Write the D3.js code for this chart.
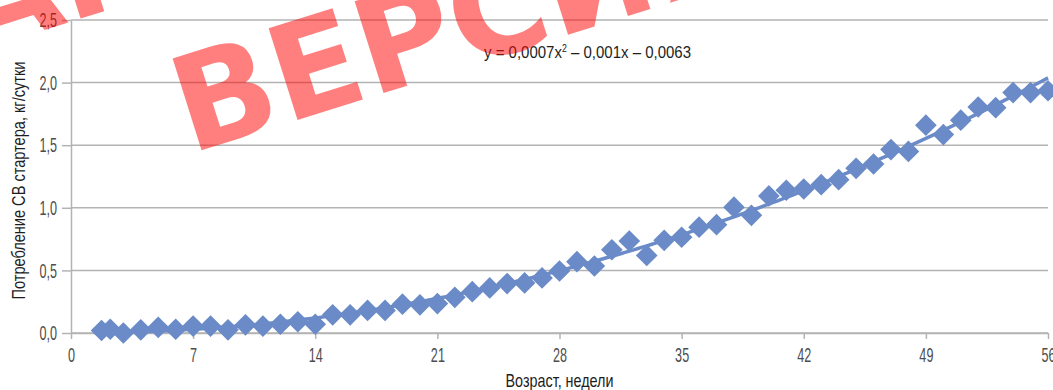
<!DOCTYPE html>
<html>
<head>
<meta charset="utf-8">
<script src="https://cdn.jsdelivr.net/npm/d3@7"></script>
<style>
  html, body { margin: 0; padding: 0; background: #fff; }
  svg { display: block; }
  .lbl { font-family: "Liberation Sans", Arial, sans-serif; }
</style>
</head>
<body>
<div id="chart"></div>
<script>
// weeks of age (x) and starter DM intake, kg/day (y)
const weeks = [1.75, 2.25, 3, 4, 5, 6, 7, 8, 9, 10, 11, 12, 13, 14, 15, 16, 17, 18, 19, 20,
  21, 22, 23, 24, 25, 26, 27, 28, 29, 30, 31, 32, 33, 34, 35, 36, 37, 38, 39, 40,
  41, 42, 43, 44, 45, 46, 47, 48, 49, 50, 51, 52, 53, 54, 55, 56];
const intake = [0.02, 0.03, 0.00, 0.025, 0.045, 0.03, 0.055, 0.055, 0.025, 0.065, 0.055, 0.07, 0.09, 0.07, 0.145, 0.145, 0.18, 0.18, 0.23, 0.225,
  0.235, 0.285, 0.33, 0.36, 0.395, 0.40, 0.44, 0.495, 0.57, 0.535, 0.665, 0.735, 0.62, 0.74, 0.765, 0.845, 0.865, 1.005, 0.94, 1.095,
  1.14, 1.15, 1.185, 1.225, 1.315, 1.35, 1.465, 1.45, 1.66, 1.585, 1.70, 1.805, 1.80, 1.92, 1.92, 1.935];

const xTicks = [0, 7, 14, 21, 28, 35, 42, 49, 56];
const yTicks = [0, 0.5, 1, 1.5, 2, 2.5];
const yTickLabels = ['0,0', '0,5', '1,0', '1,5', '2,0', '2,5'];

const xTitle = 'Возраст, недели';
const yTitle = 'Потребление СВ стартера, кг/сутки';
const equation = ['y = 0,0007x', '2', ' – 0,001x – 0,0063'];
const watermark = ['ОЗНАКОМИТЕЛЬНАЯ', 'ВЕРСИЯ'];

const W = 1053, H = 390;
const margin = { top: 20, right: 5, bottom: 57, left: 71 };
const blue = '#6a8bc7';

// squeeze a text horizontally so it looks like a condensed face
function condense(sel, factor) {
  sel.each(function () {
    const len = this.getComputedTextLength();
    d3.select(this).attr('textLength', len * factor).attr('lengthAdjust', 'spacingAndGlyphs');
  });
}

const svg = d3.select('#chart').append('svg')
  .attr('width', W)
  .attr('height', H);

const x = d3.scaleLinear().domain([0, 56]).range([margin.left, W - margin.right]);
const y = d3.scaleLinear().domain([0, 2.5]).range([H - margin.bottom, margin.top]);

// gridlines
svg.append('g')
  .selectAll('line')
  .data(yTicks)
  .enter()
  .append('line')
  .attr('x1', x(0))
  .attr('x2', x(56))
  .attr('y1', d => y(d))
  .attr('y2', d => y(d))
  .attr('stroke', '#b3b3b3')
  .attr('stroke-width', 1.5);

// x axis
const xAxis = svg.append('g')
  .attr('transform', `translate(0,${y(0)})`)
  .call(d3.axisBottom(x).tickValues(xTicks).tickSize(6).tickSizeOuter(0).tickPadding(8));

// y axis
const yAxis = svg.append('g')
  .attr('transform', `translate(${x(0)},0)`)
  .call(d3.axisLeft(y).tickValues(yTicks).tickSize(9).tickSizeOuter(0).tickPadding(5)
    .tickFormat((d, i) => yTickLabels[i]));

[xAxis, yAxis].forEach(a => {
  a.select('.domain').attr('stroke', '#b3b3b3').attr('stroke-width', 1.5);
  a.selectAll('.tick line').attr('stroke', '#b3b3b3').attr('stroke-width', 1.5);
  a.selectAll('.tick text')
    .attr('class', 'lbl')
    .attr('fill', '#4d4d4d')
    .style('font-size', '21px')
    .call(condense, 0.6);
});

// axis titles
svg.append('text')
  .attr('class', 'lbl')
  .attr('x', (x(0) + x(56)) / 2)
  .attr('y', 387)
  .attr('text-anchor', 'middle')
  .attr('fill', '#1e1e1e')
  .style('font-size', '19px')
  .text(xTitle)
  .attr('textLength', 108)
  .attr('lengthAdjust', 'spacingAndGlyphs');

svg.append('text')
  .attr('class', 'lbl')
  .attr('transform', `translate(25,${(y(0) + y(2.5)) / 2 + 4}) rotate(-90)`)
  .attr('text-anchor', 'middle')
  .attr('fill', '#1e1e1e')
  .style('font-size', '19px')
  .text(yTitle)
  .attr('textLength', 238)
  .attr('lengthAdjust', 'spacingAndGlyphs');

// data points (diamonds)
const pts = weeks.map((w, i) => ({ w, v: intake[i] }));
svg.append('g')
  .selectAll('path')
  .data(pts)
  .enter()
  .append('path')
  .attr('d', d3.symbol(d3.symbolSquare, 235))
  .attr('transform', d => `translate(${x(d.w)},${y(d.v)}) rotate(45)`)
  .attr('fill', blue);

// quadratic least-squares trendline fitted to the points
function polyFit2(xs, ys) {
  const S = [0, 0, 0, 0, 0], T = [0, 0, 0];
  xs.forEach((xi, i) => {
    for (let k = 0; k < 5; k++) S[k] += Math.pow(xi, k);
    for (let k = 0; k < 3; k++) T[k] += ys[i] * Math.pow(xi, k);
  });
  const A = [[S[0], S[1], S[2], T[0]], [S[1], S[2], S[3], T[1]], [S[2], S[3], S[4], T[2]]];
  for (let c = 0; c < 3; c++) {
    for (let r = c + 1; r < 3; r++) {
      const f = A[r][c] / A[c][c];
      for (let k = c; k < 4; k++) A[r][k] -= f * A[c][k];
    }
  }
  const b = [0, 0, 0];
  for (let r = 2; r >= 0; r--) {
    let s = A[r][3];
    for (let k = r + 1; k < 3; k++) s -= A[r][k] * b[k];
    b[r] = s / A[r][r];
  }
  return b;
}
const coef = polyFit2(weeks, intake);
const xs = d3.range(d3.min(weeks), d3.max(weeks) + 0.001, 0.25);
svg.append('path')
  .datum(xs)
  .attr('fill', 'none')
  .attr('stroke', blue)
  .attr('stroke-width', 3.5)
  .attr('d', d3.line()
    .x(d => x(d))
    .y(d => y(coef[0] + coef[1] * d + coef[2] * d * d)));

// trend equation
const eq = svg.append('text')
  .attr('class', 'lbl')
  .attr('x', 484)
  .attr('y', 58)
  .attr('fill', '#1e1e1e')
  .style('font-size', '17px');
eq.append('tspan').text(equation[0]);
eq.append('tspan').attr('dy', -6).style('font-size', '10px').text(equation[1]);
eq.append('tspan').attr('dy', 6).text(equation[2]);
eq.attr('textLength', 207).attr('lengthAdjust', 'spacingAndGlyphs');

// watermark
const wm = svg.append('g')
  .attr('transform', 'translate(190,154) rotate(-17.5)')
  .style('font-family', '"DejaVu Sans", sans-serif')
  .style('font-weight', 'bold')
  .style('font-size', '132px')
  .attr('fill', 'rgba(255,0,0,0.5)');
const line2 = wm.append('text').attr('x', 0).attr('y', 0).text(watermark[1]);
const w2 = line2.node().getComputedTextLength();
wm.append('text')
  .attr('x', w2 / 2)
  .attr('y', -162)
  .attr('text-anchor', 'middle')
  .text(watermark[0]);
</script>
</body>
</html>
